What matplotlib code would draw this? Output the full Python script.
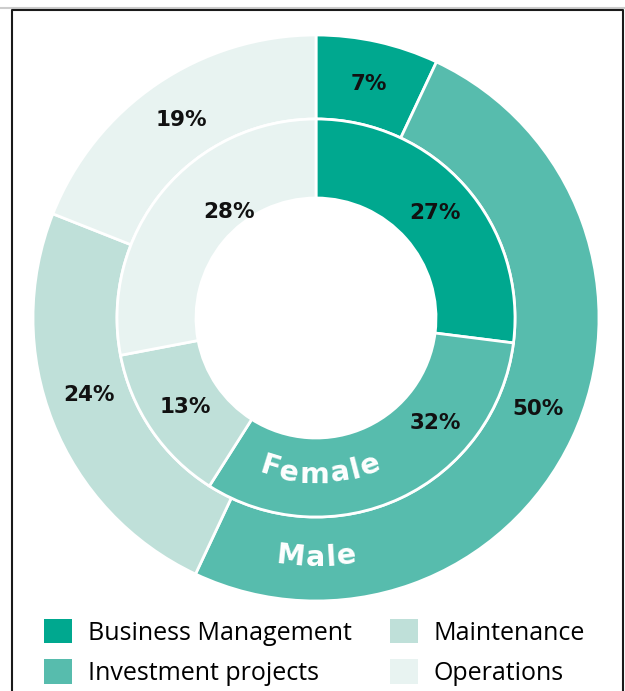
import numpy as np
import matplotlib.pyplot as plt
from matplotlib.lines import Line2D
from matplotlib.font_manager import FontProperties

# Data
categories = ["Business Management", "Investment projects", "Maintenance", "Operations"]
male = [7, 50, 24, 19]
female = [27, 32, 13, 28]
colors = ["#00A88F", "#57BCAD", "#BFE0D9", "#E8F3F1"]

W, H = 625, 691
fig = plt.figure(figsize=(W / 100, H / 100), dpi=100)

# pie axes: center (316, 318) px, radius 283 px
cx, cy, R = 316, 318, 283
ax = fig.add_axes([(cx - R) / W, (H - cy - R) / H, 2 * R / W, 2 * R / H])
ax.set_aspect("equal")
ax.axis("off")

r_out, r_mid, r_in = 1.0, 199 / R, 120 / R
wp = dict(edgecolor="white", linewidth=2)
outer, _ = ax.pie(male, radius=r_out, colors=colors, startangle=90, counterclock=False,
                  wedgeprops=dict(width=r_out - r_mid, **wp))
inner, _ = ax.pie(female, radius=r_mid, colors=colors, startangle=90, counterclock=False,
                  wedgeprops=dict(width=r_mid - r_in, **wp))
ax.set_xlim(-1, 1)
ax.set_ylim(-1, 1)

bold = FontProperties(family="DejaVu Sans", weight="bold")
lab_font = dict(fontproperties=bold, fontsize=15.5, color="#111111", ha="center", va="center")


def put_labels(vals, radius, shift, rad_fix):
    start = 0
    for i, v in enumerate(vals):
        mid = start + v / 2 + shift.get(i, 0)
        ang = np.deg2rad(90 - mid / 100 * 360)
        r = rad_fix.get(i, radius)
        ax.text(r * np.cos(ang), r * np.sin(ang), f"{v}%", **lab_font)
        start += v


put_labels(male, 0.848, {1: -0.83, 2: 0.83}, {})
put_labels(female, 0.56, {1: -6.5, 3: 3.0}, {3: 0.485})

renderer = fig.canvas.get_renderer()


def text_w(s, size):
    fp = bold.copy()
    fp.set_size(size)
    w, _, _ = renderer.get_text_width_height_descent(s, fp, ismath=False)
    return w / R  # pixels -> data units


def curved(text, radius, center_deg, size, track=1.04):
    # text along the bottom of a circle, tops facing the centre
    total = text_w(text, size) * track
    for i, c in enumerate(text):
        a0 = text_w(text[:i], size) * track if i else 0
        a1 = text_w(text[:i + 1], size) * track
        arc = (a0 + a1) / 2 - total / 2
        phi = np.deg2rad(center_deg) + arc / radius
        ax.text(radius * np.cos(phi), radius * np.sin(phi), c, rotation=np.rad2deg(phi) + 90,
                rotation_mode="anchor", ha="center", va="center_baseline", fontsize=size,
                fontproperties=bold, color="white")


curved("Female", 0.543, -88.5, 20.5)
curved("Male", 0.837, -90, 20.5)

# Legend
leg = fig.legend(handles=list(outer), labels=categories, ncol=2, loc="upper left",
                 bbox_to_anchor=(44 / W, 1 - 619 / H), frameon=False, borderpad=0,
                 borderaxespad=0,
                 handlelength=1.12, handleheight=1.12, handletextpad=0.62, columnspacing=1.55,
                 labelspacing=0.55, prop=dict(family=["Open Sans", "DejaVu Sans"], size=18))
for h in leg.legend_handles:
    h.set_edgecolor("none")

# frame
fig.add_artist(Line2D([0, 1], [1 - 8 / H] * 2, color="#cccccc", lw=1.5))
fig.add_artist(Line2D([12 / W, 12 / W, 623 / W, 623 / W], [0, 1 - 10 / H, 1 - 10 / H, 0],
                      color="#1a1a1a", lw=1.5))

fig.savefig("out.png", dpi=100)
